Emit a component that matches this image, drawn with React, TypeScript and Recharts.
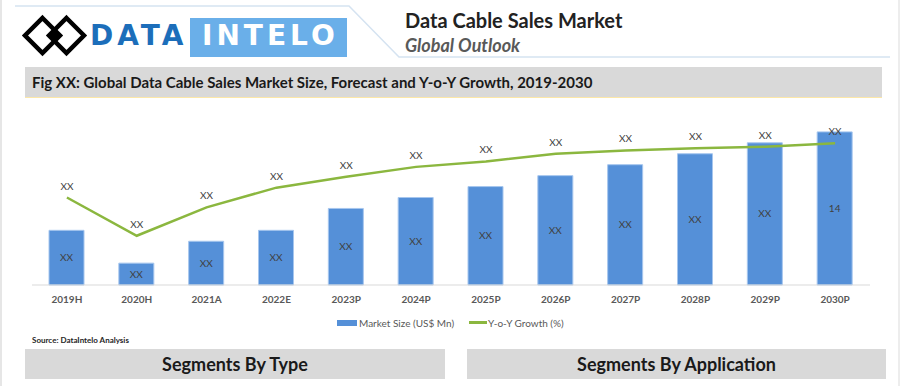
import React from "react";
import { ComposedChart, Bar, Line, XAxis, YAxis, LabelList } from "recharts";

// values
const years = ["2019H", "2020H", "2021A", "2022E", "2023P", "2024P", "2025P", "2026P", "2027P", "2028P", "2029P", "2030P"];
const marketSize = [5, 2, 4, 5, 7, 8, 9, 10, 11, 12, 13, 14];
const yoyGrowth = [8.0, 4.5, 7.1, 8.9, 9.9, 10.8, 11.3, 12.0, 12.3, 12.5, 12.65, 12.95];
const sizeLabels = ["XX", "XX", "XX", "XX", "XX", "XX", "XX", "XX", "XX", "XX", "XX", "14"];
const growthLabels = ["XX", "XX", "XX", "XX", "XX", "XX", "XX", "XX", "XX", "XX", "XX", "XX"];

const BLUE = "#5590D8";
const GREEN = "#8BB73F";
const FONT = "Lato, 'Open Sans', sans-serif";

const data = years.map((year, i) => ({
  year,
  size: marketSize[i],
  growth: yoyGrowth[i],
  sizeLabel: sizeLabels[i],
  growthLabel: growthLabels[i],
}));

function Logo() {
  return (
    <>
      <svg width={900} height={386} style={{ position: "absolute", left: 0, top: 0 }}>
        {/* header outline */}
        <polyline
          points="13,6 347,6 397,57 888,57"
          fill="none"
          stroke="#D5E3F1"
          strokeWidth={1.5}
        />
        {/* diamonds */}
        <polygon points="40.5,18 58,35.5 40.5,53 23,35.5" fill="none" stroke="#000" strokeWidth={4.5} />
        <polygon points="64.5,18 82,35.5 64.5,53 47,35.5" fill="none" stroke="#000" strokeWidth={4.5} />
        <polygon points="52.5,31 57,35.5 52.5,40 48,35.5" fill="#000" />
      </svg>
      <div
        style={{
          position: "absolute",
          left: 88,
          top: 16,
          fontFamily: "'DejaVu Sans', sans-serif",
          fontWeight: 700,
          fontSize: 28,
          lineHeight: "40px",
          letterSpacing: 4,
          color: "#1C6EBA",
        }}
      >
        DATA
      </div>
      <div
        style={{
          position: "absolute",
          left: 188,
          top: 18,
          width: 157,
          height: 39,
          background: "#6AAFE9",
        }}
      />
      <div
        style={{
          position: "absolute",
          left: 200,
          top: 16,
          fontFamily: "'DejaVu Sans', sans-serif",
          fontWeight: 700,
          fontSize: 28,
          lineHeight: "40px",
          letterSpacing: 4,
          color: "#fff",
        }}
      >
        INTELO
      </div>
    </>
  );
}

export default function App() {
  return (
    <div
      style={{
        position: "relative",
        width: 900,
        height: 386,
        background: "#fff",
        overflow: "hidden",
        fontFamily: FONT,
        boxSizing: "border-box",
        borderLeft: "2px solid #E6E6E6",
        borderRight: "2px solid #EDEDED",
      }}
    >
      <style>{"body{margin:0}"}</style>
      <Logo />

      <div style={{ position: "absolute", left: 403, top: 8, fontSize: 20, fontWeight: 700, color: "#222", lineHeight: "24px" }}>
        Data Cable Sales Market
      </div>
      <div
        style={{
          position: "absolute",
          left: 403,
          top: 34,
          fontSize: 18,
          fontWeight: 700,
          fontStyle: "italic",
          color: "#595959",
          lineHeight: "22px",
        }}
      >
        Global Outlook
      </div>

      <div
        style={{
          position: "absolute",
          left: 23,
          top: 67,
          width: 857,
          height: 31,
          background: "#D9D9D9",
          borderBottom: "1px solid #FCE7A8",
          boxSizing: "border-box",
          paddingLeft: 7,
          fontSize: 15,
          fontWeight: 700,
          lineHeight: "30px",
          color: "#1a1a1a",
        }}
      >
        Fig XX: Global Data Cable Sales Market Size, Forecast and Y-o-Y Growth, 2019-2030
      </div>

      <div style={{ position: "absolute", left: 0, top: 105 }}>
        <ComposedChart width={896} height={225} data={data} margin={{ top: 5, right: 28, bottom: 15, left: 30 }}>
          <XAxis
            dataKey="year"
            interval={0}
            tickLine={false}
            axisLine={{ stroke: "#D9D9D9" }}
            tickMargin={5}
            height={30}
            tick={{ fontSize: 10, fill: "#595959", fontWeight: 700, fontFamily: FONT }}
          />
          <YAxis yAxisId="left" hide domain={[0, 16]} />
          <YAxis yAxisId="right" orientation="right" hide domain={[0, 16]} />
          <Bar
            yAxisId="left"
            dataKey="size"
            barSize={35}
            fill={BLUE}
            stroke="#A6C6EE"
            strokeWidth={1}
            isAnimationActive={false}
          >
            <LabelList dataKey="sizeLabel" position="center" fill="#404040" fontSize={10} fontFamily={FONT} />
          </Bar>
          <Line
            yAxisId="right"
            type="linear"
            dataKey="growth"
            stroke={GREEN}
            strokeWidth={2.5}
            dot={false}
            activeDot={false}
            isAnimationActive={false}
          >
            <LabelList dataKey="growthLabel" position="top" offset={8} fill="#404040" fontSize={10} fontFamily={FONT} />
          </Line>
        </ComposedChart>
      </div>

      {/* legend */}
      <div
        style={{
          position: "absolute",
          left: 335,
          top: 315,
          height: 15,
          display: "flex",
          alignItems: "center",
          fontSize: 10,
          color: "#595959",
        }}
      >
        <span style={{ width: 20, height: 6, background: BLUE, display: "inline-block", marginRight: 2 }} />
        <span>Market Size (US$ Mn)</span>
        <span style={{ width: 18, height: 2.5, background: GREEN, display: "inline-block", marginLeft: 15, marginRight: 1 }} />
        <span>Y-o-Y Growth (%)</span>
      </div>

      <div style={{ position: "absolute", left: 30, top: 335, fontSize: 8, fontWeight: 700, color: "#262626" }}>
        Source: DataIntelo Analysis
      </div>

      {[
        { text: "Segments By Type", left: 23, width: 420 },
        { text: "Segments By Application", left: 465, width: 419 },
      ].map((s) => (
        <div
          key={s.text}
          style={{
            position: "absolute",
            left: s.left,
            top: 349,
            width: s.width,
            height: 30,
            background: "#D9D9D9",
            textAlign: "center",
            fontSize: 18,
            fontWeight: 700,
            lineHeight: "30px",
            color: "#1a1a1a",
          }}
        >
          {s.text}
        </div>
      ))}
    </div>
  );
}
